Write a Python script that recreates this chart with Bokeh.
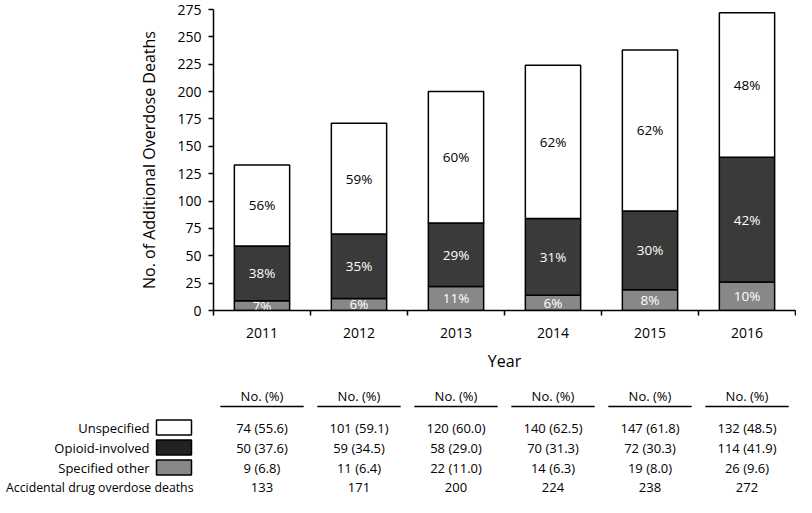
import numpy as np
from bokeh.plotting import figure
from bokeh.models import FixedTicker, Range1d, ColumnDataSource
from bokeh.layouts import column, row
from bokeh.core.properties import value
from bokeh.embed import file_html
from bokeh.resources import INLINE

# ---- data ----
years = ["2011", "2012", "2013", "2014", "2015", "2016"]
unspecified = [74, 101, 120, 140, 147, 132]
opioid = [50, 59, 58, 70, 72, 114]
other = [9, 11, 22, 14, 19, 26]
unspecified_pct = [55.6, 59.1, 60.0, 62.5, 61.8, 48.5]
opioid_pct = [37.6, 34.5, 29.0, 31.3, 30.3, 41.9]
other_pct = [6.8, 6.4, 11.0, 6.3, 8.0, 9.6]
totals = [133, 171, 200, 224, 238, 272]
unspecified_lbl = ["56%", "59%", "60%", "62%", "62%", "48%"]
opioid_lbl = ["38%", "35%", "29%", "31%", "30%", "42%"]
other_lbl = ["7%", "6%", "11%", "6%", "8%", "10%"]
y_ticks = list(range(0, 276, 25))
row_labels = ["Unspecified", "Opioid-involved", "Specified other", "Accidental drug overdose deaths"]

FONT = "Open Sans"
WHITE, DARK, GRAY = "#ffffff", "#3a3a3a", "#888888"

n = len(years)
xs = [i + 0.5 for i in range(n)]

W = 796
FL = 213          # frame left
FW = 582          # frame width
CW = FW / n
PH = 374

p = figure(width=W, height=PH, output_backend="svg", toolbar_location=None,
           x_range=Range1d(0, n), y_range=Range1d(0, 275),
           min_border_left=FL, min_border_right=W - FL - FW,
           min_border_top=9, min_border_bottom=PH - 320)
p.outline_line_color = None
p.grid.visible = False

src = ColumnDataSource(dict(x=xs, other=other, opioid=opioid, unspecified=unspecified))
p.vbar_stack(["other", "opioid", "unspecified"], x="x", width=0.57, source=src,
             fill_color=[GRAY, DARK, WHITE], line_color="black", line_width=1.5)

o = np.array(other, float)
op = np.array(opioid, float)
u = np.array(unspecified, float)
for mids, lbls, col in [(o / 2, other_lbl, "white"),
                        (o + op / 2, opioid_lbl, "white"),
                        (o + op + u / 2, unspecified_lbl, "black")]:
    p.text(x=xs, y=list(mids), text=lbls, text_align="center", text_baseline="middle",
           text_font=value(FONT), text_font_size="13.5px", text_color=col)

# x axis
xa = p.xaxis[0]
xa.ticker = FixedTicker(ticks=xs, minor_ticks=list(range(n + 1)))
xa.major_label_overrides = {x: y for x, y in zip(xs, years)}
xa.major_tick_out = 0
xa.major_tick_in = 0
xa.minor_tick_out = 5
xa.minor_tick_in = 0
xa.major_label_standoff = 12
xa.axis_label = "Year"
xa.axis_label_standoff = 9

ya = p.yaxis[0]
ya.ticker = FixedTicker(ticks=y_ticks)
ya.major_tick_out = 5
ya.major_tick_in = 0
ya.minor_tick_out = 0
ya.minor_tick_in = 0
ya.major_label_standoff = 7
ya.axis_label = "No. of Additional Overdose Deaths"
ya.axis_label_standoff = 14

for ax in (xa, ya):
    ax.axis_line_color = "black"
    ax.axis_line_width = 1.5
    ax.major_tick_line_color = "black"
    ax.major_tick_line_width = 1.5
    ax.minor_tick_line_color = "black"
    ax.minor_tick_line_width = 1.5
    ax.major_label_text_font = FONT
    ax.major_label_text_font_size = "14px"
    ax.major_label_text_color = "black"
    ax.axis_label_text_font = FONT
    ax.axis_label_text_font_size = "16px"
    ax.axis_label_text_font_style = "normal"
    ax.axis_label_text_color = "black"

# ---- table ----
TH = 497 - PH
ROW = 20
R0 = 53
yr = ((TH - R0) / ROW, -R0 / ROW)

def blank(width, xr):
    f = figure(width=width, height=TH, output_backend="svg", toolbar_location=None,
               x_range=Range1d(*xr), y_range=Range1d(*yr),
               min_border_left=0, min_border_right=0, min_border_top=0, min_border_bottom=0,
               x_axis_location=None, y_axis_location=None)
    f.outline_line_color = None
    f.grid.visible = False
    return f

tl = blank(FL, (-FL / CW, 0))
tv = blank(W - FL, (0, (W - FL) / CW))

head_y = (21 - R0) / ROW
line_y = (32 - R0) / ROW
tv.text(x=xs, y=[head_y] * n, text=["No. (%)"] * n, text_align="center", text_baseline="middle",
        text_font=value(FONT), text_font_size="13px", text_color="black")
tv.segment(x0=[x - 0.43 for x in xs], x1=[x + 0.43 for x in xs], y0=[line_y] * n, y1=[line_y] * n,
           line_color="black", line_width=1.5)

rows_vals = [
    [f"{a} ({b:.1f})" for a, b in zip(unspecified, unspecified_pct)],
    [f"{a} ({b:.1f})" for a, b in zip(opioid, opioid_pct)],
    [f"{a} ({b:.1f})" for a, b in zip(other, other_pct)],
    [str(a) for a in totals],
]
for r, vals in enumerate(rows_vals):
    tv.text(x=xs, y=[r] * n, text=vals, text_align="center", text_baseline="middle",
            text_font=value(FONT), text_font_size="13px", text_color="black")

box_x = -39.5 / CW
tl.rect(x=[box_x] * 3, y=[0, 1, 2], width=35, height=15, width_units="screen", height_units="screen",
        fill_color=[WHITE, "#222222", GRAY], line_color="black", line_width=1.5)
tl.text(x=[-64 / CW] * 3, y=[0, 1, 2], text=row_labels[:3], text_align="right", text_baseline="middle",
        text_font=value(FONT), text_font_size="13px", text_color="black")
tl.text(x=[-20 / CW], y=[3], text=row_labels[3:], text_align="right", text_baseline="middle",
        text_font=value(FONT), text_font_size="12.3px", text_color="black")

layout = column(p, row(tl, tv, spacing=0), spacing=0)
open("out.html", "w").write(file_html(layout, INLINE))
